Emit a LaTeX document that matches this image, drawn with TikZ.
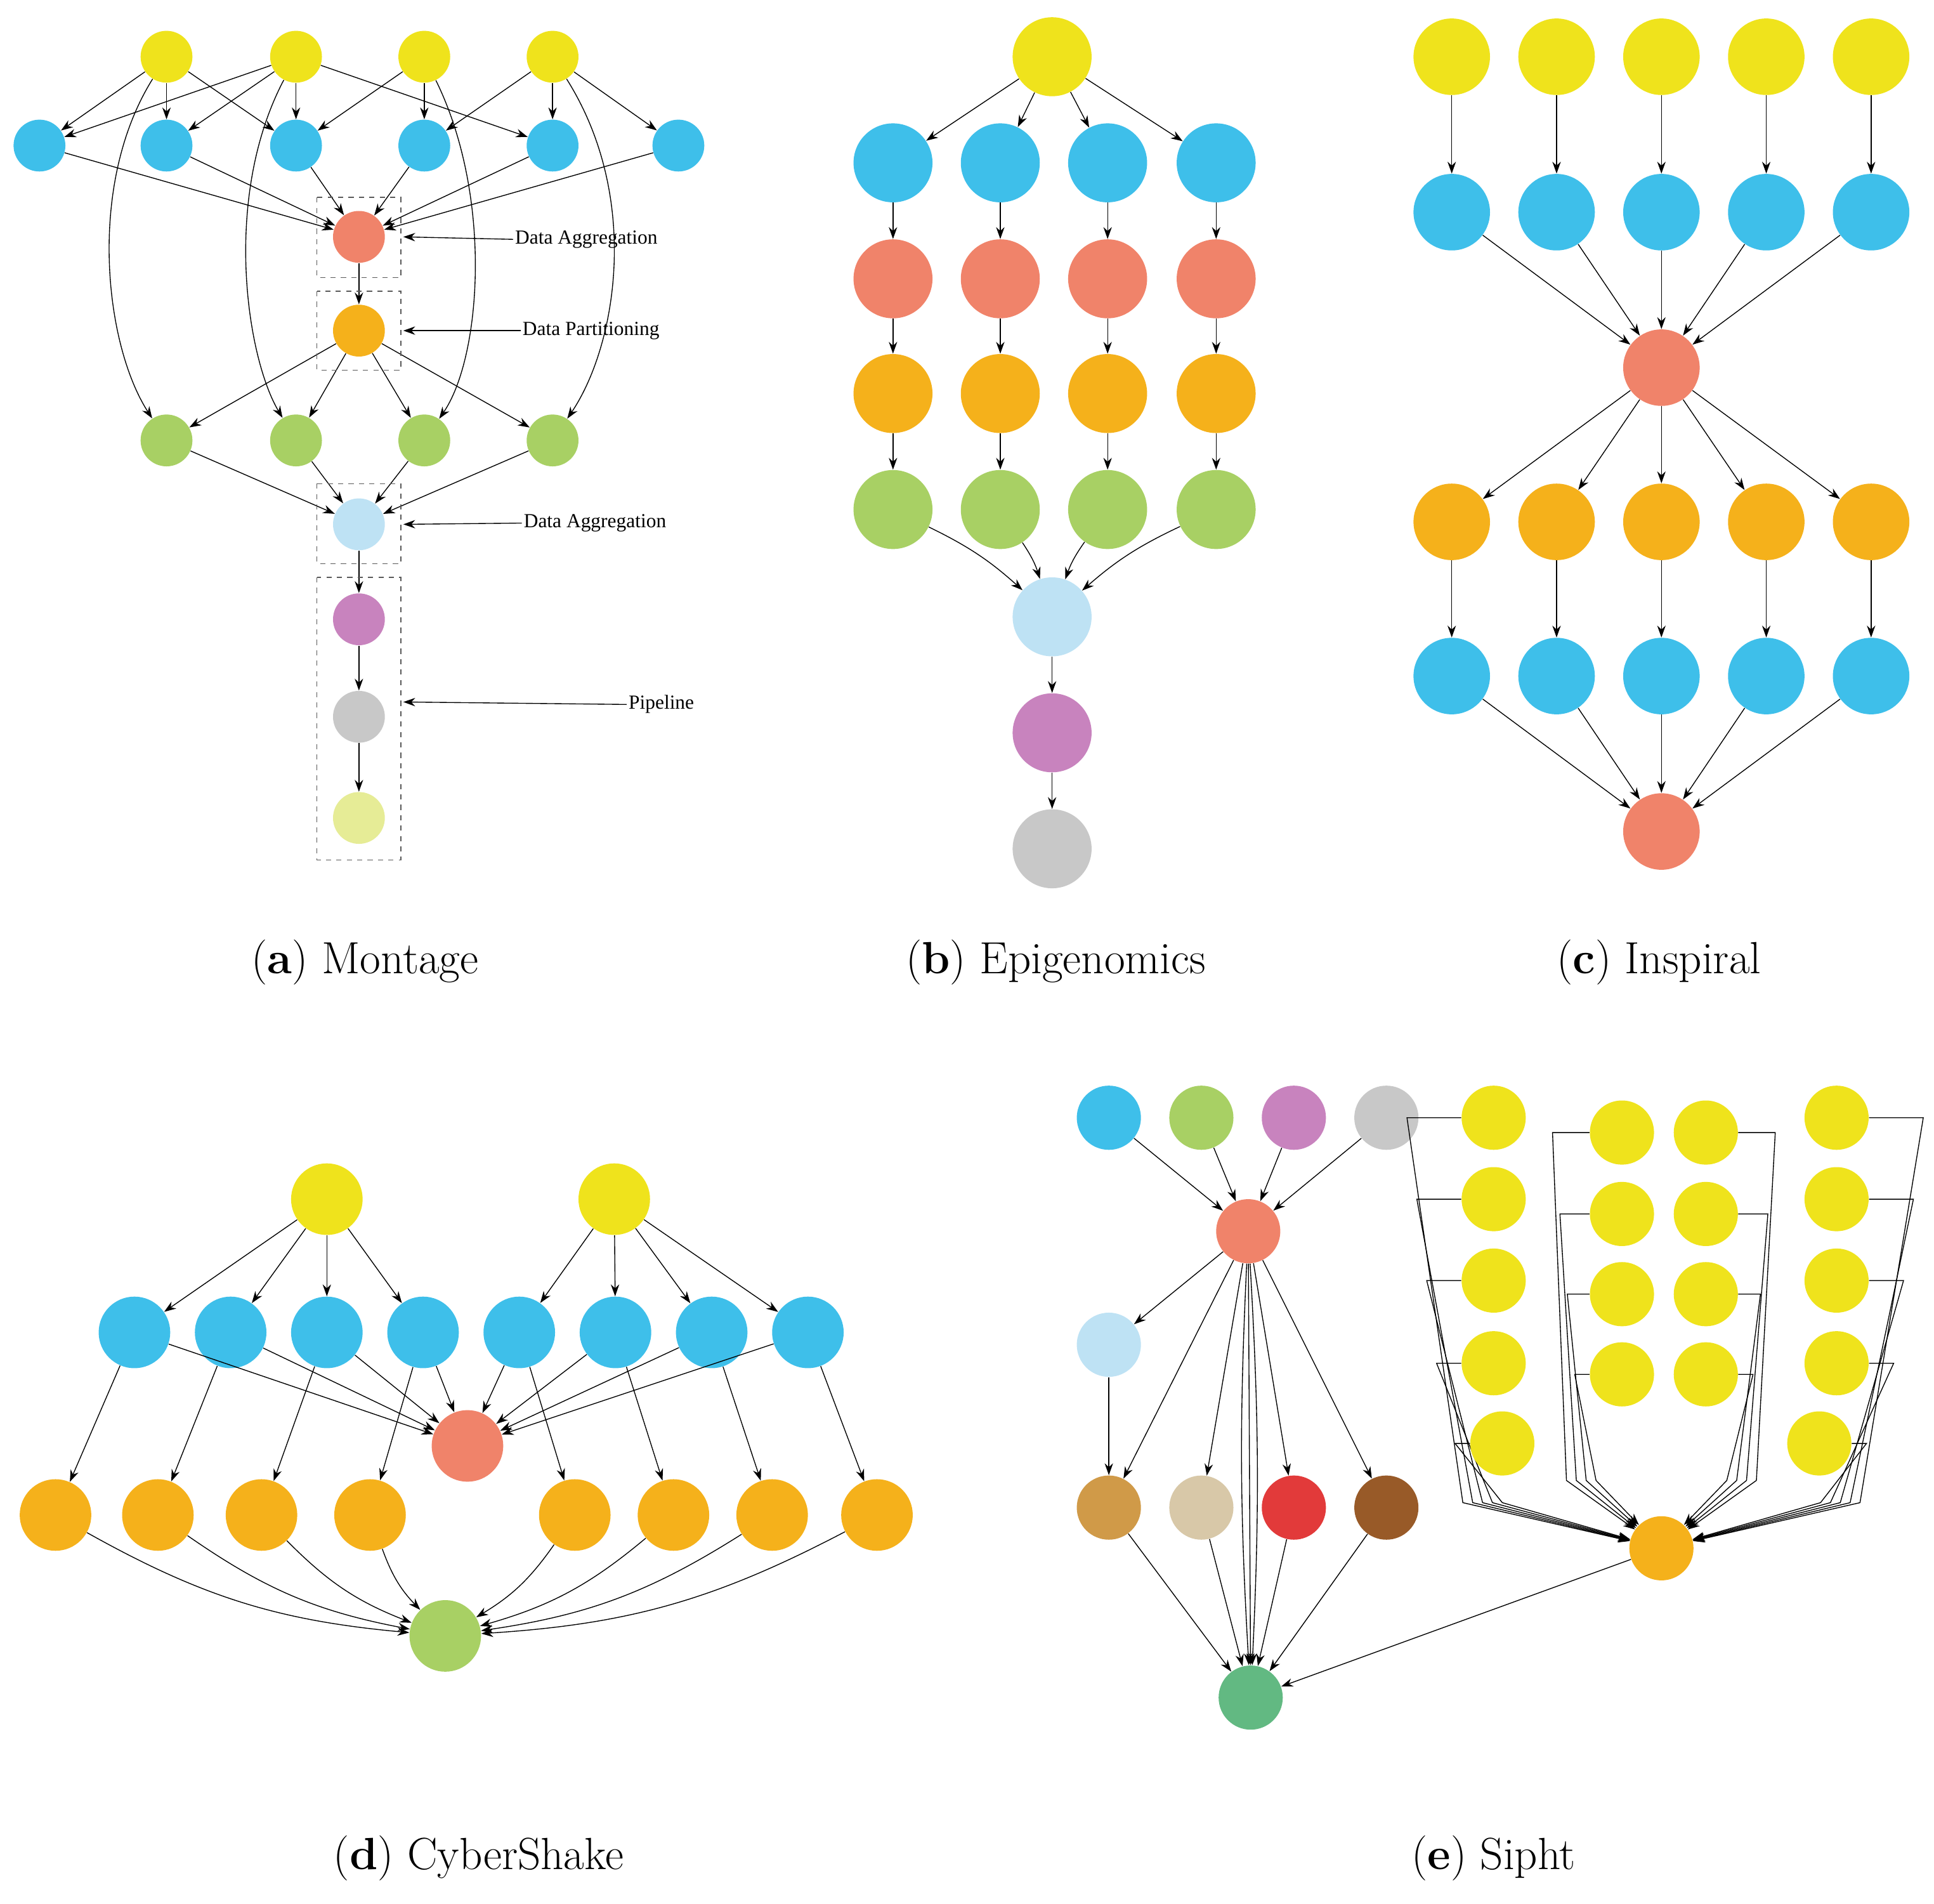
\documentclass[tikz,border=0pt]{standalone}
\usepackage{fontspec}
\newfontfamily\tmsfont{Liberation Serif}
\usetikzlibrary{arrows.meta,positioning}
\definecolor{cY}{HTML}{EFE31C}
\definecolor{cB}{HTML}{3EBFEA}
\definecolor{cS}{HTML}{F0836A}
\definecolor{cO}{HTML}{F5B11B}
\definecolor{cG}{HTML}{A8D064}
\definecolor{cL}{HTML}{BEE2F4}
\definecolor{cP}{HTML}{C883BE}
\definecolor{cR}{HTML}{C8C8C8}
\definecolor{cW}{HTML}{E6EC96}
\definecolor{cT}{HTML}{D09A48}
\definecolor{cE}{HTML}{D8C8A8}
\definecolor{cD}{HTML}{E23A3A}
\definecolor{cN}{HTML}{985A28}
\definecolor{cQ}{HTML}{62B982}
\tikzset{
  job/.style={circle,inner sep=0pt,draw=none},
  sa/.style={job,minimum size=1.05cm},
  sb/.style={job,minimum size=1.6cm},
  sc/.style={job,minimum size=1.55cm},
  sd/.style={job,minimum size=1.45cm},
  se/.style={job,minimum size=1.3cm},
  flow/.style={-{Stealth[length=2.4mm,width=1.7mm]},line width=0.5pt},
  grp/.style={dashed,line width=0.5pt,gray!70!black},
  lbl/.style={font=\tmsfont\fontsize{11.5}{13}\selectfont,anchor=west,inner sep=1pt},
  caption/.style={font=\fontsize{26}{30}\selectfont}
}
\begin{document}
\begin{tikzpicture}[x=0.025cm,y=-0.025cm]
  \useasboundingbox (0,0) rectangle (1568,1543);
  % (a) Montage
  \foreach \x [count=\i] in {135,240,344,448} \node[sa,fill=cY] (aY\i) at (\x,46) {};
  \foreach \x [count=\i] in {32,135,240,344,448,550} \node[sa,fill=cB] (aB\i) at (\x,118) {};
  \node[sa,fill=cS] (aS) at (291,192) {};
  \node[sa,fill=cO] (aO) at (291,268) {};
  \foreach \x [count=\i] in {135,240,344,448} \node[sa,fill=cG] (aG\i) at (\x,357) {};
  \node[sa,fill=cL] (aL) at (291,425) {};
  \node[sa,fill=cP] (aP) at (291,502) {};
  \node[sa,fill=cR] (aR) at (291,581) {};
  \node[sa,fill=cW] (aW) at (291,663) {};
  \foreach \s/\t in {aY1/aB1,aY1/aB2,aY1/aB3,aY2/aB1,aY2/aB2,aY2/aB3,aY2/aB5,aY3/aB3,aY3/aB4,aY4/aB4,aY4/aB5,aY4/aB6,
    aB1/aS,aB2/aS,aB3/aS,aB4/aS,aB5/aS,aB6/aS,aS/aO,aO/aG1,aO/aG2,aO/aG3,aO/aG4,
    aG1/aL,aG2/aL,aG3/aL,aG4/aL,aL/aP,aP/aR,aR/aW}
    \draw[flow] (\s) -- (\t);
  \draw[flow] (aY1) .. controls (70,150) and (85,280) .. (aG1);
  \draw[flow] (aY2) .. controls (180,160) and (200,290) .. (aG2);
  \draw[flow] (aY3) .. controls (400,160) and (390,290) .. (aG3);
  \draw[flow] (aY4) .. controls (520,160) and (500,280) .. (aG4);
  \draw[grp] (257,160) rectangle (325,225);
  \draw[grp] (257,236) rectangle (325,300);
  \draw[grp] (257,392) rectangle (325,457);
  \draw[grp] (257,468) rectangle (325,697);
  \coordinate (aA1) at (327,192); \coordinate (aA2) at (327,268);
  \coordinate (aA3) at (327,425); \coordinate (aA4) at (327,569);
  \node[lbl] (aT1) at (416,194) {Data Aggregation};
  \node[lbl] (aT2) at (422,268) {Data Partitioning};
  \node[lbl] (aT3) at (423,424) {Data Aggregation};
  \node[lbl] (aT4) at (508,571) {Pipeline};
  \foreach \i in {1,...,4} \draw[flow] (aT\i.west) -- (aA\i);
  % (b) Epigenomics
  \node[sb,fill=cY] (bY) at (853,46) {};
  \foreach \x [count=\i] in {724,811,898,986} {
    \node[sb,fill=cB] (bB\i) at (\x,132) {};
    \node[sb,fill=cS] (bS\i) at (\x,226) {};
    \node[sb,fill=cO] (bO\i) at (\x,319) {};
    \node[sb,fill=cG] (bG\i) at (\x,413) {};
    \draw[flow] (bY) -- (bB\i);
    \draw[flow] (bB\i) -- (bS\i);
    \draw[flow] (bS\i) -- (bO\i);
    \draw[flow] (bO\i) -- (bG\i);
  }
  \node[sb,fill=cL] (bL) at (853,500) {};
  \node[sb,fill=cP] (bP) at (853,594) {};
  \node[sb,fill=cR] (bR) at (853,688) {};
  \draw[flow] (bG1) to[bend left=8] (bL);
  \draw[flow] (bG2) to[bend left=8] (bL);
  \draw[flow] (bG3) to[bend right=8] (bL);
  \draw[flow] (bG4) to[bend right=8] (bL);
  \draw[flow] (bL) -- (bP);
  \draw[flow] (bP) -- (bR);
  % (c) Inspiral
  \node[sc,fill=cS] (cS1) at (1347,298) {};
  \node[sc,fill=cS] (cS2) at (1347,674) {};
  \foreach \x [count=\i] in {1177,1262,1347,1432,1517} {
    \node[sc,fill=cY] (cY\i) at (\x,46) {};
    \node[sc,fill=cB] (cB\i) at (\x,172) {};
    \node[sc,fill=cO] (cO\i) at (\x,423) {};
    \node[sc,fill=cB] (cC\i) at (\x,548) {};
    \draw[flow] (cY\i) -- (cB\i);
    \draw[flow] (cB\i) -- (cS1);
    \draw[flow] (cS1) -- (cO\i);
    \draw[flow] (cO\i) -- (cC\i);
    \draw[flow] (cC\i) -- (cS2);
  }
  % (d) CyberShake
  \node[sd,fill=cY] (dY1) at (265,972) {};
  \node[sd,fill=cY] (dY2) at (498,972) {};
  \node[sd,fill=cS] (dS) at (379,1172) {};
  \node[sd,fill=cG] (dG) at (361,1326) {};
  \foreach \x [count=\i] in {109,187,265,343,421,499,577,655} \node[sd,fill=cB] (dB\i) at (\x,1080) {};
  \foreach \x [count=\i] in {45,128,212,300,466,546,626,711} \node[sd,fill=cO] (dO\i) at (\x,1228) {};
  \foreach \i in {1,...,4} \draw[flow] (dY1) -- (dB\i);
  \foreach \i in {5,...,8} \draw[flow] (dY2) -- (dB\i);
  \foreach \i in {1,...,8} {
    \draw[flow] (dB\i) -- (dS);
    \draw[flow] (dB\i) -- (dO\i);
  }
  \foreach \i in {1,...,4} \draw[flow] (dO\i) to[bend right=12] (dG);
  \foreach \i in {5,...,8} \draw[flow] (dO\i) to[bend left=12] (dG);
  % (e) Sipht
  \foreach \c/\x [count=\i] in {cB/899,cG/974,cP/1049,cR/1124} \node[se,fill=\c] (eT\i) at (\x,906) {};
  \foreach \c/\x [count=\i] in {cT/899,cE/974,cD/1049,cN/1124} \node[se,fill=\c] (eM\i) at (\x,1222) {};
  \node[se,fill=cS] (eS) at (1012,998) {};
  \node[se,fill=cL] (eL) at (899,1090) {};
  \node[se,fill=cQ] (eQ) at (1014,1376) {};
  \node[se,fill=cO] (eO) at (1347,1255) {};
  \foreach \i in {1,...,4} {
    \draw[flow] (eT\i) -- (eS);
    \draw[flow] (eS) -- (eM\i);
    \draw[flow] (eM\i) -- (eQ);
  }
  \draw[flow] (eS) -- (eL);
  \draw[flow] (eL) -- (eM1);
  \draw[flow] (eS) to[bend right=3] (eQ);
  \draw[flow] (eS) -- (eQ);
  \draw[flow] (eS) to[bend left=3] (eQ);
  \draw[flow] (eO) -- (eQ);
  \foreach \x/\y [count=\i] in {1211/906,1211/972,1211/1038,1211/1105,1218/1170} {
    \node[se,fill=cY] (eA\i) at (\x,\y) {};
    \draw[flow] (eA\i.west) -- ++({-52+8*\i},0) -- ({1178+8*\i},1218) -- (eO);
  }
  \foreach \x/\y [count=\i] in {1489/906,1489/972,1489/1038,1489/1105,1475/1170} {
    \node[se,fill=cY] (eD\i) at (\x,\y) {};
    \draw[flow] (eD\i.east) -- ++({52-8*\i},0) -- ({1516-8*\i},1218) -- (eO);
  }
  \foreach \y [count=\i] in {918,984,1049,1114} {
    \node[se,fill=cY] (eB\i) at (1315,\y) {};
    \node[se,fill=cY] (eC\i) at (1383,\y) {};
    \draw[flow] (eB\i.west) -- ++({-36+6*\i},0) -- ({1262+8*\i},1200) -- (eO);
    \draw[flow] (eC\i.east) -- ++({36-6*\i},0) -- ({1432-8*\i},1200) -- (eO);
  }
  % captions
  \node[caption] (capA) at (296,780) {(\textbf{a}) Montage};
  \node[caption] (capB) at (856,780) {(\textbf{b}) Epigenomics};
  \node[caption] (capC) at (1345,780) {(\textbf{c}) Inspiral};
  \node[caption] (capD) at (388,1506) {(\textbf{d}) CyberShake};
  \node[caption] (capE) at (1211,1506) {(\textbf{e}) Sipht};
\end{tikzpicture}
\end{document}
